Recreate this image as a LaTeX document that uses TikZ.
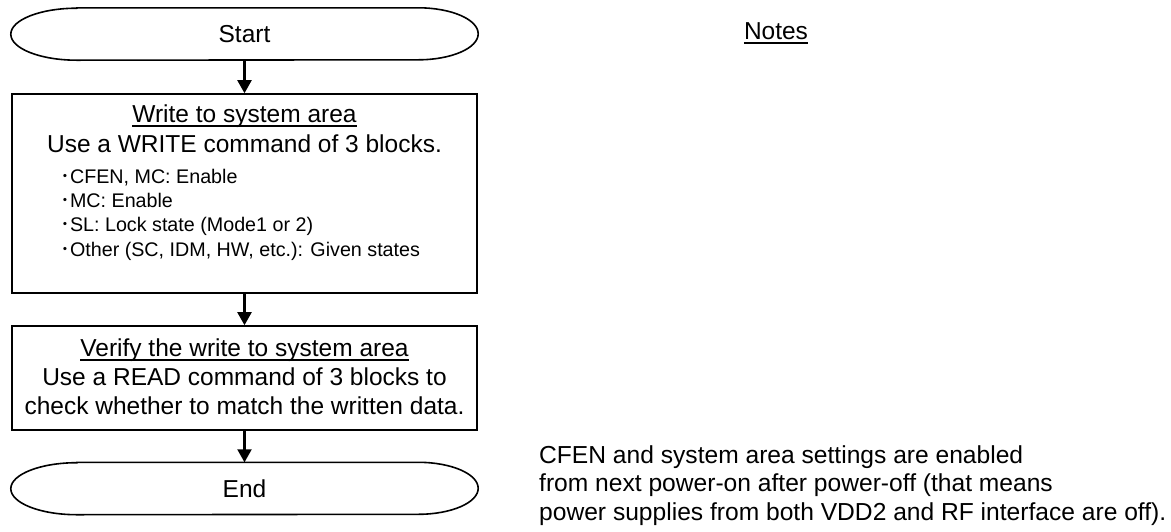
\documentclass[tikz,border=0pt]{standalone}
\usepackage{fontspec}
\setmainfont{Liberation Sans}
\newfontfamily\cjk{Noto Sans CJK JP}
\usetikzlibrary{arrows.meta}
\begin{document}
\begin{tikzpicture}[x=1pt,y=-1pt,
  main/.style={font=\fontsize{24.5}{29}\selectfont, inner sep=0pt, anchor=base},
  small/.style={font=\fontsize{19.7}{24}\selectfont, inner sep=0pt, anchor=base west},
  note/.style={font=\fontsize{24.6}{29}\selectfont, inner sep=0pt, anchor=base west},
  term/.style={draw=none, minimum width=467pt, minimum height=52pt, inner sep=0pt, font=\fontsize{24.5}{29}\selectfont},
  termline/.style={line width=1.6pt},
  procbox/.style={draw, line width=1.6pt, inner sep=0pt, minimum width=465pt},
  flow/.style={line width=2.2pt, -{Triangle[length=13pt,width=14pt]}},
  uline/.style={line width=1.3pt}]
\useasboundingbox (0,0) rectangle (1171,531);

% Start terminator
\node[term] (s) at (244.5,34) {Start};
\draw[termline] ([xshift=66pt]s.north west) -- ([xshift=-60pt]s.north east)
  arc[start angle=90,end angle=-90,x radius=60pt,y radius=26pt]
  -- ([xshift=66pt]s.south west)
  arc[start angle=270,end angle=90,x radius=66pt,y radius=26pt] -- cycle;

% Box 1
\node[procbox, minimum height=199pt] (b1) at (244.5,193.5) {};
\node[main] (t1) at (244.5,122) {Write to system area};
\draw[uline] ([yshift=-4pt]t1.base west) -- ([yshift=-4pt]t1.base east);
\node[main] (t2) at (244.5,152) {Use a WRITE command of 3 blocks.};
\node[small] (l1) at (60,183) {{\cjk ･}CFEN, MC: Enable};
\node[small] (l2) at (60,207.3) {{\cjk ･}MC: Enable};
\node[small] (l3) at (60,231.6) {{\cjk ･}SL: Lock state (Mode1 or 2)};
\node[small] (l4) at (60,256) {{\cjk ･}Other (SC, IDM, HW, etc.): Given states};

% Box 2
\node[procbox, minimum height=104pt] (b2) at (244.5,378) {};
\node[main] (v1) at (244.5,356) {Verify the write to system area};
\draw[uline] ([yshift=-4pt]v1.base west) -- ([yshift=-4pt]v1.base east);
\node[main] (v2) at (244.5,385.5) {Use a READ command of 3 blocks to};
\node[main] (v3) at (244.5,414) {check whether to match the written data.};

% End terminator
\node[term] (e) at (244.5,488.5) {End};
\draw[termline] ([xshift=66pt]e.north west) -- ([xshift=-60pt]e.north east)
  arc[start angle=90,end angle=-90,x radius=60pt,y radius=26pt]
  -- ([xshift=66pt]e.south west)
  arc[start angle=270,end angle=90,x radius=66pt,y radius=26pt] -- cycle;

% Connectors
\draw[flow] (s.south) -- (b1.north);
\draw[flow] (b1.south) -- (b2.north);
\draw[flow] (b2.south) -- (e.north);

% Notes
\node[main] (notes) at (776,39) {Notes};
\draw[uline] ([yshift=-4pt]notes.base west) -- ([yshift=-4pt]notes.base east);
\node[note] (n1) at (539,463) {CFEN and system area settings are enabled};
\node[note] (n2) at (539,491.5) {from next power-on after power-off (that means};
\node[note] (n3) at (539,520) {power supplies from both VDD2 and RF interface are off).};
\end{tikzpicture}
\end{document}
